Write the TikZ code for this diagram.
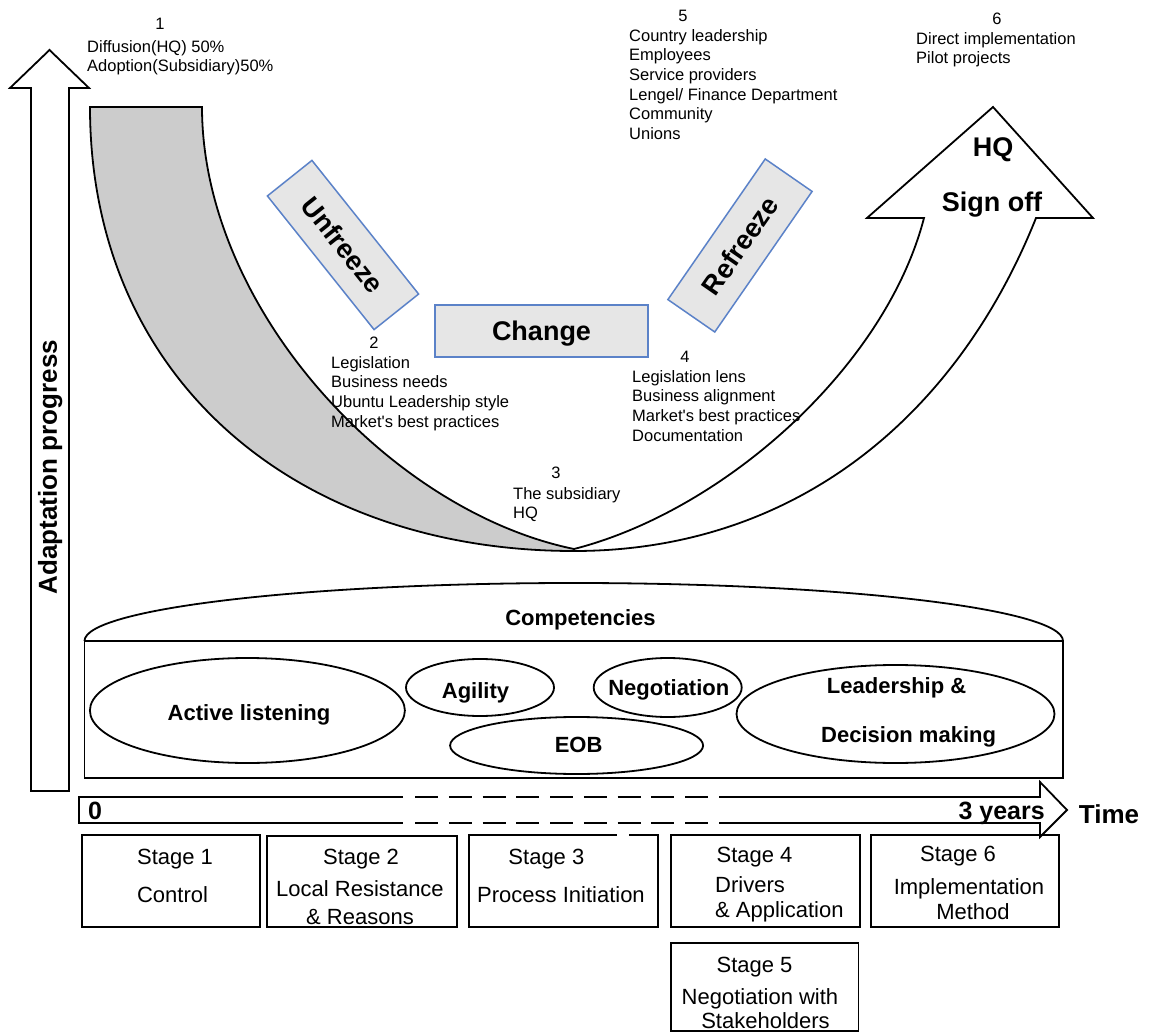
\documentclass[tikz,border=0pt]{standalone}
\usepackage{fontspec}
\setmainfont{Liberation Sans}
\usetikzlibrary{shapes.geometric}
\definecolor{phaseblue}{HTML}{5B82C8}
\definecolor{phasefill}{HTML}{E6E6E6}
\definecolor{bandgray}{HTML}{CCCCCC}
\newcommand\fsz[2]{\fontsize{#1}{#2}\selectfont}
\begin{document}
\begin{tikzpicture}[x=1pt,y=-1pt,
  ol/.style={draw=black, line width=1.8pt, line join=miter},
  blk/.style={font=\fsz{16.5}{19.7}, inner sep=0pt, align=left, anchor=north west},
  num/.style={font=\fsz{16.5}{19.7}, inner sep=0pt, text height=11.8pt, text depth=0pt},
  phase/.style={draw=phaseblue, fill=phasefill, line width=1.5pt, inner sep=0pt, minimum width=171pt, minimum height=57pt, font=\bfseries\fsz{27}{32}, text height=19.4pt, text depth=0pt},
  big/.style={font=\bfseries\fsz{27}{32}, inner sep=0pt, text height=19.4pt, text depth=0pt},
  comp/.style={draw=black, line width=1.8pt, ellipse, inner sep=0pt},
  ctxt/.style={font=\bfseries\fsz{22}{26}, inner sep=0pt, text height=15.8pt, text depth=0pt},
  stagebox/.style={draw=black, line width=1.3pt, inner sep=0pt},
  stxt/.style={font=\fsz{22}{26}, inner sep=0pt, text height=15.8pt, text depth=0pt},
  ttxt/.style={font=\bfseries\fsz{25}{30}, inner sep=0pt, text height=18pt, text depth=0pt}
]
\fill[white] (0,0) rectangle (1149,1032);
\useasboundingbox (0,0) rectangle (1149,1032);

% vertical progress arrow
\draw[ol, fill=white] (31,791) -- (31,88) -- (10,88) -- (49.5,50) -- (89,88) -- (69,88) -- (69,791) -- cycle;
\node[rotate=90, font=\bfseries\fsz{26}{30}, inner sep=0pt, text height=18.7pt, text depth=0pt] (adapt) at (47.5,467) {Adaptation progress};

% grey band (left half of U)
\draw[ol, fill=bandgray] (90,107) -- (202,107) .. controls (202,307) and (389,511) .. (574,549) -- (574,551) .. controls (294,551) and (90,377) .. (90,107) -- cycle;

% white rising arrow (right half of U)
\draw[ol, fill=white] (574,549) .. controls (723,511) and (885,368) .. (924,218) -- (867,218) -- (993,107) -- (1093,218) -- (1036,218) .. controls (956,418) and (794,551) .. (574,551) -- cycle;
\node[big] (hq) at (993,146.5) {HQ};
\node[big] (sign) at (992,202) {Sign off};

% phases
\node[phase, rotate=-51.4] (unf) at (343,245) {Unfreeze};
\node[phase, rotate=55.3] (ref) at (740,245.5) {Refreeze};
\node[phase, line width=2pt, minimum width=213pt, minimum height=52pt] (chg) at (541.5,331) {Change};

% text blocks
\node[num] (n1) at (160,24) {1};
\node[blk] (t1) at (87,40) {Diffusion(HQ) 50\%\\Adoption(Subsidiary)50\%};
\node[num] (n5) at (683,16) {5};
\node[blk] (t5) at (629,29) {Country leadership\\Employees\\Service providers\\Lengel/ Finance Department\\Community\\Unions};
\node[num] (n6) at (997,19) {6};
\node[blk] (t6) at (916,32) {Direct implementation\\Pilot projects};
\node[num] (n2) at (374,343) {2};
\node[blk] (t2) at (331,356) {Legislation\\Business needs\\Ubuntu Leadership style\\Market\textquotesingle s best practices};
\node[num] (n4) at (685,357) {4};
\node[blk] (t4) at (632,370) {Legislation lens\\Business alignment\\Market\textquotesingle s best practices\\Documentation};
\node[num] (n3) at (556,473) {3};
\node[blk] (t3) at (513,487) {The subsidiary\\HQ};

% competencies
\node[draw=black, line width=1.8pt, inner sep=0pt, minimum width=978.5pt, minimum height=137pt] (compbox) at (573.75,709.5) {};
\draw[ol] (84.5,641) .. controls (84.5,609) and (303.5,583) .. (573.75,583) .. controls (843.9,583) and (1063,609) .. (1063,641);
\node[ctxt] (tcomp) at (580.5,618) {Competencies};

\node[comp, minimum width=315pt, minimum height=105pt] (eal) at (247.4,710.5) {};
\node[ctxt] (tal) at (249,712.8) {Active listening};
\node[comp, minimum width=148pt, minimum height=57pt] (eag) at (480,687.5) {};
\node[ctxt] (tag) at (475.5,690.7) {Agility};
\node[comp, minimum width=148pt, minimum height=59pt] (eng) at (667.7,687.5) {};
\node[ctxt] (tng) at (668.8,687.5) {Negotiation};
\node[comp, minimum width=253pt, minimum height=57pt] (eeob) at (576.6,745.5) {};
\node[ctxt] (teob) at (578.6,745) {EOB};
\node[comp, minimum width=318pt, minimum height=98pt] (eld) at (895.5,714) {};
\node[ctxt] (tld1) at (896.6,685.8) {Leadership \&};
\node[ctxt] (tld2) at (908.6,734.7) {Decision making};

% time arrow
\draw[ol] (403,797) -- (79,797) -- (79,823) -- (403,823);
\draw[ol] (719,797) -- (1040,797) -- (1040,782) -- (1067,810) -- (1040,837) -- (1040,823) -- (719,823);
\draw[ol, dash pattern=on 23pt off 10.75pt] (415,797) -- (708,797);
\draw[ol, dash pattern=on 23pt off 10.75pt] (415,823) -- (708,823);
\node[ttxt] (t0) at (95,810) {0};
\node[ttxt, anchor=east] (t3y) at (1045,810) {3 years};
\node[ttxt, font=\bfseries\fsz{26}{30}] (ttime) at (1109,814) {Time};

% stage boxes
\node[stagebox, minimum width=178pt, minimum height=92pt] (s1) at (171,881) {};
\node[stagebox, minimum width=190pt, minimum height=91pt] (s2) at (362,881.5) {};
\node[stagebox, minimum width=189pt, minimum height=92pt] (s3) at (563.5,881) {};
\draw[white, line width=2.6pt] (617,835) -- (629,835);
\node[stagebox, minimum width=189pt, minimum height=92pt] (s4) at (765.5,881) {};
\node[stagebox, minimum width=188pt, minimum height=92pt] (s6) at (965,881) {};
\node[stagebox, minimum width=187.5pt, minimum height=88pt] (s5) at (764.75,987) {};

\node[stxt] (s1a) at (175,856.5) {Stage 1};
\node[stxt] (s1b) at (172.5,895) {Control};
\node[stxt] (s2a) at (361,856.5) {Stage 2};
\node[stxt] (s2b) at (360,888.5) {Local Resistance};
\node[stxt] (s2c) at (360,916.5) {\& Reasons};
\node[stxt] (s3a) at (546.4,856.5) {Stage 3};
\node[stxt] (s3b) at (561,894.5) {Process Initiation};
\node[stxt] (s4a) at (754.5,855) {Stage 4};
\node[stxt, anchor=west] (s4b) at (715,885) {Drivers};
\node[stxt, anchor=west] (s4c) at (715,910) {\& Application};
\node[stxt] (s6a) at (958,853.5) {Stage 6};
\node[stxt] (s6b) at (969,887) {Implementation};
\node[stxt] (s6c) at (973,911.5) {Method};
\node[stxt] (s5a) at (754.5,965) {Stage 5};
\node[stxt] (s5b) at (760,996.5) {Negotiation with};
\node[stxt] (s5c) at (765.5,1021) {Stakeholders};
\end{tikzpicture}
\end{document}
